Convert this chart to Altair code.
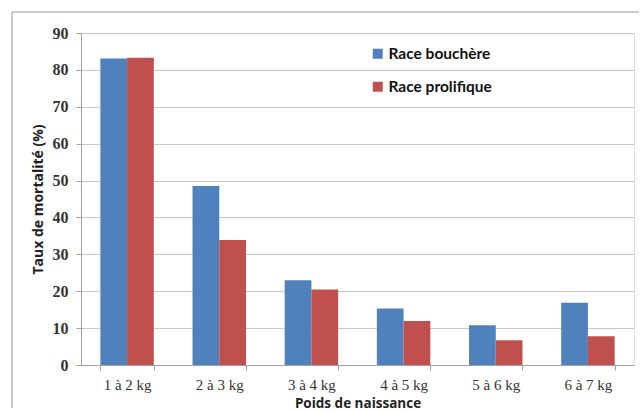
import altair as alt
import pandas as pd

categories = ["1 à 2 kg", "2 à 3 kg", "3 à 4 kg", "4 à 5 kg", "5 à 6 kg", "6 à 7 kg"]
series = ["Race bouchère", "Race prolifique"]
bouchere = [83.1, 48.5, 23.0, 15.3, 10.8, 16.9]
prolifique = [83.3, 33.9, 20.5, 11.9, 6.7, 7.8]
colors = ["#4F81BD", "#C0504D"]

rows = []
for c, b, p in zip(categories, bouchere, prolifique):
    rows.append({"cat": c, "race": series[0], "val": b})
    rows.append({"cat": c, "race": series[1], "val": p})
df = pd.DataFrame(rows)

bars = alt.Chart(df).mark_bar().encode(
    x=alt.X("cat:N", sort=categories,
            scale=alt.Scale(paddingInner=0.42, paddingOuter=0.21),
            axis=alt.Axis(title="Poids de naissance", labelAngle=0,
                          labelFont="Liberation Serif", labelFontSize=15,
                          labelColor="#333333", labelPadding=7,
                          tickBand="extent", tickColor="#a0a0a0", tickSize=5,
                          domainColor="#a0a0a0", grid=False,
                          titleFont="Open Sans", titleFontSize=13.5, titleFontWeight="bold",
                          titleColor="#222222", titlePadding=4)),
    xOffset=alt.XOffset("race:N", sort=series),
    y=alt.Y("val:Q", scale=alt.Scale(domain=[0, 90], nice=False),
            axis=alt.Axis(title="Taux de mortalité (%)", values=list(range(0, 91, 10)),
                          labelFont="Liberation Serif", labelFontSize=16, labelFontWeight="bold",
                          labelColor="#333333", labelPadding=8,
                          tickColor="#a0a0a0", tickSize=5, domainColor="#a0a0a0",
                          gridColor="#c8c8c8",
                          titleFont="Open Sans", titleFontSize=14, titleFontWeight="bold",
                          titleColor="#222222", titlePadding=7)),
    color=alt.Color("race:N", sort=series,
                    scale=alt.Scale(domain=series, range=colors),
                    legend=alt.Legend(title=None, orient="none", legendX=289, legendY=13,
                                      symbolType="square", symbolSize=100,
                                      symbolStrokeWidth=0, rowPadding=16,
                                      labelFont="Lato", labelFontSize=15.5,
                                      labelFontWeight="bold", labelColor="#111111",
                                      labelOffset=3)),
)

border_left = alt.Chart(pd.DataFrame({"a": [0]})).mark_rule(
    stroke="#b8b8b8", strokeWidth=1.5
).encode(x=alt.value(-69), y=alt.value(-21), x2=alt.value(-69), y2=alt.value(375))
border_top = alt.Chart(pd.DataFrame({"a": [0]})).mark_rule(
    stroke="#b8b8b8", strokeWidth=1.5
).encode(x=alt.value(-69), y=alt.value(-21), x2=alt.value(558), y2=alt.value(-21))

chart = alt.layer(border_left, border_top, bars).properties(
    width=553, height=332,
    autosize=alt.AutoSizeParams(type="none"),
    padding={"left": 81, "top": 33, "right": 7, "bottom": 43},
).configure_view(stroke=None).configure(background="white")

chart.save("out.html", embed_options={"renderer": "svg", "actions": False})
